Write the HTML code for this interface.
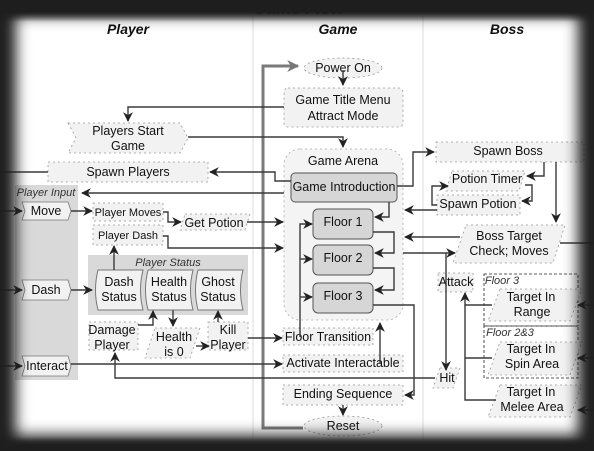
<!DOCTYPE html>
<html><head><meta charset="utf-8"><style>
html,body{margin:0;padding:0;background:#1e1e1e;}
#w{position:relative;width:594px;height:451px;overflow:hidden;background:#fff;}
svg{position:absolute;left:0;top:0;}
#fr{position:absolute;left:0;top:0;width:594px;height:451px;pointer-events:none;}
text{font-family:"Liberation Sans",sans-serif;font-size:12.5px;fill:#111;text-anchor:middle;}
.h{font-weight:bold;font-style:italic;font-size:14px;}
.i{font-style:italic;font-size:11px;fill:#333;}
.b{fill:#f2f2f2;stroke:#999;stroke-width:.8;stroke-dasharray:2 3;}
.d{fill:#d6d6d6;stroke:#555;stroke-width:1;}
.l{fill:none;stroke:#3a3a3a;stroke-width:1.4;}
</style></head><body><div id="w">
<svg width="594" height="451" viewBox="0 0 594 451">
<defs>
<marker id="a" viewBox="0 0 10 10" refX="9" refY="5" markerWidth="7" markerHeight="7" orient="auto-start-reverse"><path d="M0,0 L10,5 L0,10 L3,5z" fill="#222"/></marker>
<marker id="A" viewBox="0 0 10 10" refX="9" refY="5" markerWidth="4" markerHeight="4" orient="auto"><path d="M0,0 L10,5 L0,10 L3,5z" fill="#777"/></marker>
</defs>
<line x1="253" y1="15" x2="253" y2="440" stroke="#ddd"/>
<line x1="423" y1="15" x2="423" y2="440" stroke="#ddd"/>
<text x="298" y="14" style="font-size:17px;font-weight:bold" fill="#444">Game Flow</text>
<text class="h" x="128" y="34">Player</text>
<text class="h" x="338" y="34">Game</text>
<text class="h" x="507" y="34">Boss</text>

<rect x="15" y="185" width="63" height="195" fill="#d9d9d9"/>
<text class="i" x="46" y="196">Player Input</text>
<rect x="88" y="255" width="160" height="60" fill="#d9d9d9"/>
<text class="i" x="168" y="266">Player Status</text>
<rect x="284" y="149" width="119" height="171" rx="16" fill="#f4f4f4" stroke="#aaa" stroke-width=".8" stroke-dasharray="2 3"/>
<text x="343" y="165">Game Arena</text>

<path d="M303,428 H263 V66 H298" fill="none" stroke="#7a7a7a" stroke-width="3" marker-end="url(#A)"/>

<ellipse cx="343" cy="68" rx="39" ry="10" class="b"/><text x="343" y="72">Power On</text>
<rect x="284" y="88" width="119" height="39" rx="4" class="b"/><text x="343" y="104">Game Title Menu</text><text x="343" y="120">Attract Mode</text>
<rect x="291" y="173" width="106" height="29" rx="4" class="d"/><text x="344" y="191">Game Introduction</text>
<rect x="313" y="209" width="60" height="30" rx="5" class="d"/><text x="343" y="226">Floor 1</text>
<rect x="313" y="245" width="60" height="30" rx="5" class="d"/><text x="343" y="262">Floor 2</text>
<rect x="313" y="283" width="60" height="30" rx="5" class="d"/><text x="343" y="300">Floor 3</text>
<rect x="283" y="328" width="90" height="17" class="b"/><text x="328" y="341">Floor Transition</text>
<rect x="283" y="355" width="120" height="17" class="b"/><text x="343" y="367">Activate Interactable</text>
<rect x="283" y="385" width="120" height="20" class="b"/><text x="343" y="398">Ending Sequence</text>
<ellipse cx="343" cy="426" rx="39" ry="10" class="b"/><text x="343" y="430">Reset</text>

<path d="M68,123 H180 L188,138 L180,153 H68 L76,138Z" class="b" stroke-dasharray="none"/><text x="128" y="135">Players Start</text><text x="128" y="150">Game</text>
<rect x="48" y="162" width="160" height="20" class="b"/><text x="128" y="176">Spawn Players</text>
<path d="M22,202 H68 L71,211 L68,220 H22 L25,211Z" fill="#f2f2f2" stroke="#777" stroke-width=".8"/><text x="46" y="215">Move</text>
<path d="M22,280 H68 L71,290 L68,300 H22 L25,290Z" fill="#f2f2f2" stroke="#777" stroke-width=".8"/><text x="46" y="294">Dash</text>
<path d="M22,356 H68 L71,366 L68,376 H22 L25,366Z" fill="#f2f2f2" stroke="#777" stroke-width=".8"/><text x="47" y="370">Interact</text>
<rect x="93" y="203" width="70" height="18" class="b"/><text x="128" y="216" style="font-size:11px">Player Moves</text>
<rect x="93" y="225" width="70" height="20" class="b"/><text x="128" y="239" style="font-size:11px">Player Dash</text>
<path d="M185,214 H250 L245,230 H180Z" class="b"/><text x="214" y="227">Get Potion</text>
<path d="M98,270 H143 Q138,290 143,310 H98 Q93,290 98,270Z" fill="#f2f2f2" stroke="#777"/><text x="119" y="286">Dash</text><text x="119" y="301">Status</text>
<path d="M148,270 H193 Q188,290 193,310 H148 Q143,290 148,270Z" fill="#f2f2f2" stroke="#777"/><text x="169" y="286">Health</text><text x="169" y="301">Status</text>
<path d="M198,270 H243 Q238,290 243,310 H198 Q193,290 198,270Z" fill="#f2f2f2" stroke="#777"/><text x="218" y="286">Ghost</text><text x="218" y="301">Status</text>
<rect x="89" y="322" width="49" height="28" class="b"/><text x="112" y="334">Damage</text><text x="112" y="349">Player</text>
<path d="M155,328 H200 L190,358 H145Z" class="b"/><text x="174" y="341">Health</text><text x="174" y="356">is 0</text>
<rect x="208" y="322" width="40" height="28" class="b"/><text x="228" y="334">Kill</text><text x="228" y="349">Player</text>

<rect x="436" y="142" width="148" height="20" class="b"/><text x="508" y="155">Spawn Boss</text>
<path d="M452,171 H525 L519,191 H446Z" class="b"/><text x="487" y="183">Potion Timer</text>
<rect x="437" y="195" width="83" height="20" class="b"/><text x="478" y="208">Spawn Potion</text>
<path d="M466,225 H565 L553,263 H453Z" class="b"/><text x="509" y="240">Boss Target</text><text x="509" y="255">Check; Moves</text>
<rect x="438" y="273" width="35" height="19" class="b"/><text x="456" y="286">Attack</text>
<rect x="484" y="274" width="94" height="52" fill="none" stroke="#222" stroke-width=".8" stroke-dasharray="3 2"/>
<text class="i" x="502" y="284">Floor 3</text>
<rect x="484" y="326" width="94" height="52" fill="none" stroke="#222" stroke-width=".8" stroke-dasharray="3 2"/>
<text class="i" x="510" y="336">Floor 2&amp;3</text>
<path d="M500,289 H582 L570,321 H488Z" class="b"/><text x="531" y="301">Target In</text><text x="532" y="316">Range</text>
<path d="M500,342 H582 L570,375 H488Z" class="b"/><text x="531" y="353">Target In</text><text x="532" y="368">Spin Area</text>
<path d="M500,385 H582 L570,417 H488Z" class="b"/><text x="531" y="396">Target In</text><text x="532" y="411">Melee Area</text>
<path d="M440,368 H460 L453,388 H433Z" class="b"/><text x="447" y="382">Hit</text>

<g class="l">
<path d="M343,70 V85" marker-end="url(#a)"/>
<path d="M284,107 H128 V121" marker-end="url(#a)"/>
<path d="M188,137 H343 V147" marker-end="url(#a)"/>
<path d="M291,181 H275 V172 H210" marker-end="url(#a)"/>
<path d="M0,172 H48"/>
<path d="M284,193 H82" marker-end="url(#a)"/>
<path d="M0,211 H22" marker-end="url(#a)"/>
<path d="M0,290 H22" marker-end="url(#a)"/>
<path d="M0,366 H22" marker-end="url(#a)"/>
<path d="M71,211 H92" marker-end="url(#a)"/>
<path d="M71,290 H92" marker-end="url(#a)"/>
<path d="M163,212 H168 V222 H181" marker-end="url(#a)"/>
<path d="M247,222 H283" marker-end="url(#a)"/>
<path d="M163,236 H168 V248 H283" marker-end="url(#a)"/>
<path d="M114,270 V246" marker-end="url(#a)"/>
<path d="M138,325 H153 V311" marker-end="url(#a)"/>
<path d="M173,310 V326" marker-end="url(#a)"/>
<path d="M196,346 H209" marker-end="url(#a)"/>
<path d="M218,322 V311" marker-end="url(#a)"/>
<path d="M248,338 H282" marker-end="url(#a)"/>
<path d="M71,364 H282" marker-end="url(#a)"/>
<path d="M435,378 H115 V353" marker-end="url(#a)"/>
<path d="M380,364 V323" marker-end="url(#a)"/>
<path d="M300,337 V224 H312" marker-end="url(#a)"/>
<path d="M300,259 H312" marker-end="url(#a)"/>
<path d="M300,297 H312" marker-end="url(#a)"/>
<path d="M397,186 H413 V152 H434" marker-end="url(#a)"/>
<path d="M389,202 V217 H375" marker-end="url(#a)"/>
<path d="M373,232 H394 V253 H375" marker-end="url(#a)"/>
<path d="M373,268 H394 V290 H375" marker-end="url(#a)"/>
<path d="M373,305 H414 V395 H405" marker-end="url(#a)"/>
<path d="M343,405 V415" marker-end="url(#a)"/>
<path d="M437,210 H405" marker-end="url(#a)"/>
<path d="M460,237 H405" marker-end="url(#a)"/>
<path d="M403,253 H455" marker-end="url(#a)"/>
<path d="M446,253 V370" marker-end="url(#a)"/>
<path d="M492,305 H465 V293" marker-end="url(#a)"/>
<path d="M492,358 H465"/>
<path d="M496,400 H465 V305"/>
<path d="M544,162 V176 H527" marker-end="url(#a)"/>
<path d="M556,162 V222" marker-end="url(#a)"/>
<path d="M525,185 H532 V201 H522" marker-end="url(#a)"/>
<path d="M437,205 H432 V186 H448" marker-end="url(#a)"/>
<path d="M560,243 H594"/>
<path d="M594,305 H578" marker-end="url(#a)"/>
<path d="M594,358 H578" marker-end="url(#a)"/>
<path d="M594,410 H578" marker-end="url(#a)"/>
</g>
</svg>
<div id="fr" style="box-shadow:inset 0 0 14px 16px #1e1e1e;"></div>
<div style="position:absolute;left:0;top:0;width:594px;height:22px;background:linear-gradient(#1e1e1e 55%,rgba(30,30,30,0));"></div>
<div style="position:absolute;left:0;bottom:0;width:594px;height:14px;background:linear-gradient(rgba(30,30,30,0),#1e1e1e 60%);"></div>
</div></body></html>
